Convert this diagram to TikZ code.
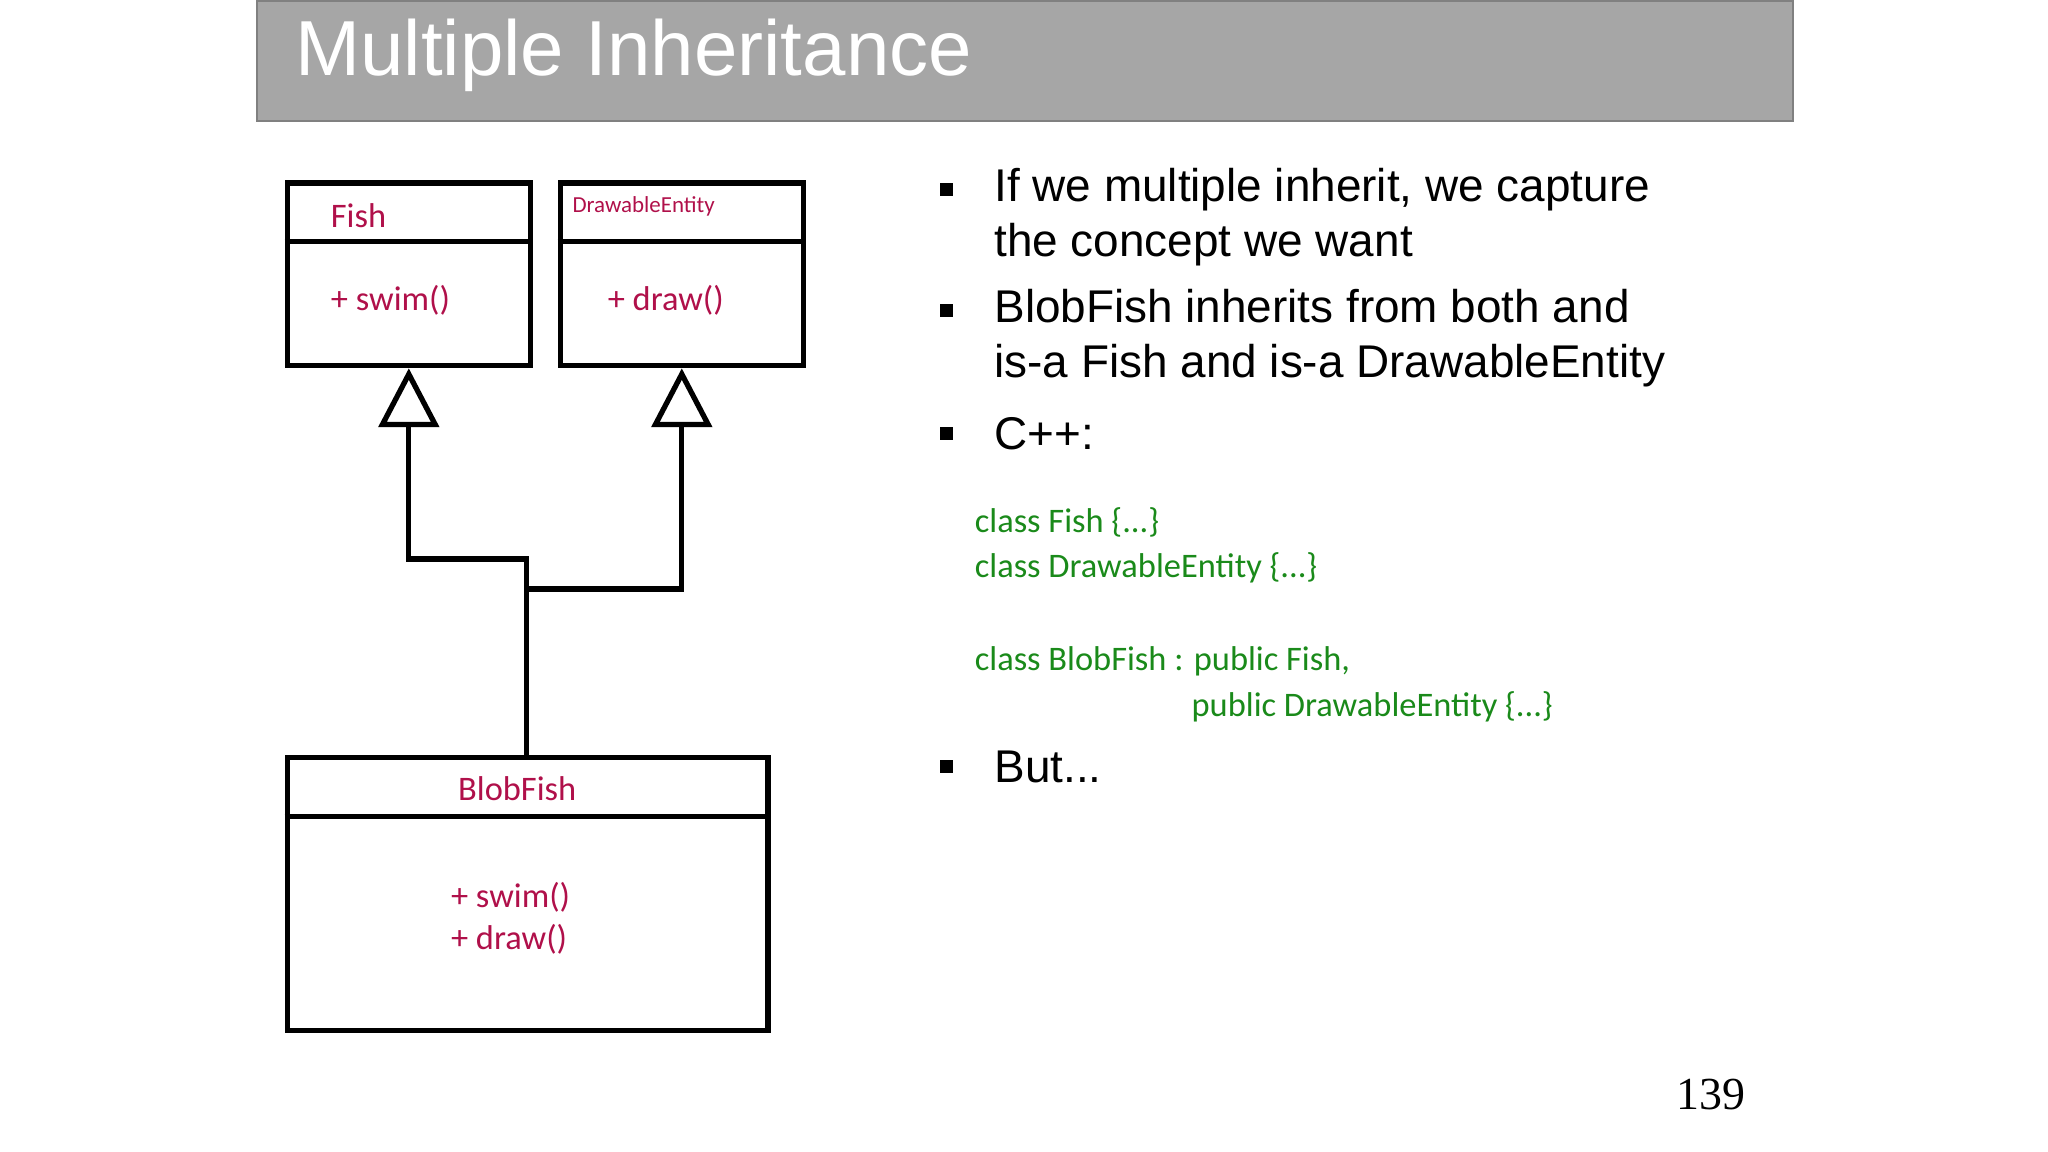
\documentclass[tikz,border=0pt]{standalone}
\usepackage{fontspec}
\setmainfont{Liberation Sans}
\newfontfamily\calib{Carlito}
\newfontfamily\serifnum{Liberation Serif}
\usetikzlibrary{arrows.meta}
\definecolor{umlred}{HTML}{B0104A}
\definecolor{codegreen}{HTML}{1A8A1A}
\definecolor{titlegray}{HTML}{A6A6A6}

\begin{document}
\begin{tikzpicture}[%
        x=0.02cm, y=-0.02cm,
        >={Triangle[open, length=0.9cm, width=0.92cm]},
    ]
    \tikzset{
        classbox/.style={draw, line width=2.3pt, inner sep=0pt},
        divider/.style={line width=2.3pt},
        inh/.style={->, line width=2.3pt},
        umltext/.style={text=umlred, font=\calib\fontsize{15}{18}\selectfont, anchor=west, inner sep=0pt},
        bullettext/.style={font=\fontsize{20}{24}\selectfont, anchor=west, align=left, inner sep=0pt},
        bulletmark/.style={fill=black, minimum size=0.2cm, inner sep=0pt},
        code/.style={text=codegreen, font=\calib\fontsize{15}{18}\selectfont, anchor=west, inner sep=0pt}
    }
    \useasboundingbox (0,0) rectangle (1568,882);
    %%% Title
    \node [draw=gray, fill=titlegray, line width=1pt, minimum width=23.52cm,
        minimum height=1.84cm, anchor=north west] (title) at (196,0) {};
    \node [text=white, font=\fontsize{34}{40}\selectfont, anchor=west] (titletext) at (220,42) {Multiple Inheritance};
    %%% Classes
    \node [classbox, minimum width=3.72cm, minimum height=2.8cm, anchor=north west] (fish) at (218,138) {};
    \draw [divider] (218,185) -- (404,185);
    \node [umltext] (fishname) at (253,165) {Fish};
    \node [umltext] (fishops) at (253,230) {+ swim()};
    \node [classbox, minimum width=3.72cm, minimum height=2.8cm, anchor=north west] (drawable) at (427,138) {};
    \draw [divider] (427,185) -- (613,185);
    \node [umltext, font=\calib\fontsize{10}{12}\selectfont] (drawname) at (438,158) {DrawableEntity};
    \node [umltext] (drawops) at (465,230) {+ draw()};
    \node [classbox, minimum width=7.36cm, minimum height=4.18cm, anchor=north west] (blob) at (218,578) {};
    \draw [divider] (218,625) -- (586,625);
    \node [umltext, anchor=center] (blobname) at (396,604) {BlobFish};
    \node [umltext, align=left] (blobops) at (345,703) {+ swim()\\+ draw()};
    %%% Connectors
    \coordinate (j1) at (403,428);
    \coordinate (j2) at (403,451);
    \draw [inh] (blob.north -| j1) -- (j1) -| (fish.south);
    \draw [inh] (j2) -| (drawable.south);
    %%% Bullets
    \foreach \yy in {145,238,332,587}
        \node [bulletmark] at (725,\yy) {};
    \node [bullettext] (b1) at (761,166) {If we multiple inherit, we capture\\the concept we want};
    \node [bullettext] (b2) at (761,259) {BlobFish inherits from both and\\is-a Fish and is-a DrawableEntity};
    \node [bullettext] (b3) at (761,332) {C++:};
    \node [bullettext] (b4) at (761,587) {But...};
    %%% Code
    \node [code] (c1) at (746,400) {class Fish \{...\}};
    \node [code] (c2) at (746,435) {class DrawableEntity \{...\}};
    \node [code] (c3) at (746,506) {class BlobFish : public Fish,};
    \node [code] (c4) at (912,541) {public DrawableEntity \{...\}};
    %%% Page number
    \node [font=\serifnum\fontsize{20}{24}\selectfont] (page) at (1310,838) {139};
\end{tikzpicture}
\end{document}
